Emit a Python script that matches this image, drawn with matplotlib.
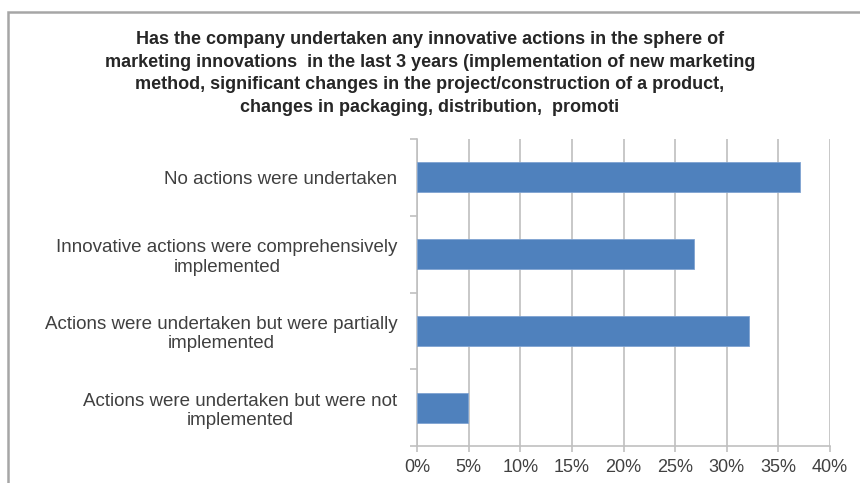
import matplotlib
matplotlib.use('Agg')
import matplotlib.pyplot as plt
from matplotlib.patches import Rectangle
from matplotlib.ticker import FuncFormatter

plt.rcParams['font.family'] = ['Liberation Sans', 'DejaVu Sans']

title = ('Has the company undertaken any innovative actions in the sphere of\n'
         'marketing innovations  in the last 3 years (implementation of new marketing\n'
         'method, significant changes in the project/construction of a product,\n'
         'changes in packaging, distribution,  promoti')

categories = ['No actions were undertaken',
              'Innovative actions were comprehensively\nimplemented',
              'Actions were undertaken but were partially\nimplemented',
              'Actions were undertaken but were not\nimplemented']
values = [37.1, 26.8, 32.2, 4.9]
xticks = [0, 5, 10, 15, 20, 25, 30, 35, 40]

fig = plt.figure(figsize=(8.6, 4.83), dpi=100)
fig.patch.set_facecolor('white')

# grey chart frame (left and top visible)
fig.patches.append(Rectangle((8 / 860, -0.1), 1.2, 1.1 - 12 / 483,
                             transform=fig.transFigure, fill=False,
                             edgecolor='#a6a6a6', linewidth=1.8))

ax = fig.add_axes([417 / 860, 37 / 483, 413 / 860, 307 / 483])
pos = list(range(len(categories)))[::-1]
ax.barh(pos, values, height=0.39, color='#4f81bd', edgecolor='#7fa3d2', linewidth=0.6, zorder=3)

ax.set_xlim(0, 40)
ax.set_ylim(-0.5, 3.5)
ax.set_xticks(xticks)
ax.xaxis.set_major_formatter(FuncFormatter(lambda v, p: f'{v:.0f}%'))
ax.grid(axis='x', color='#c8c8c8', linewidth=1.4, zorder=0)

ax.set_yticks(pos)
ax.set_yticklabels(categories, fontsize=13.5, color='#404040', ha='right',
                   multialignment='center', linespacing=1.2)
ax.tick_params(axis='y', length=0, pad=14)
ax.set_yticks([-0.5, 0.5, 1.5, 2.5, 3.5], minor=True)
ax.tick_params(axis='y', which='minor', length=5, color='#c0c0c0', width=1.2)
ax.tick_params(axis='x', length=4, color='#c0c0c0', width=1.2, labelsize=13,
               labelcolor='#404040', pad=5)

for s in ['top', 'right']:
    ax.spines[s].set_visible(False)
for s in ['left', 'bottom']:
    ax.spines[s].set_color('#c0c0c0')
    ax.spines[s].set_linewidth(1.2)

fig.text(0.5, 1 - 73.5 / 483, title, ha='center', va='center', fontsize=13,
         fontweight='bold', color='#262626', linespacing=1.42)

fig.savefig('out.png', dpi=100, facecolor='white')
